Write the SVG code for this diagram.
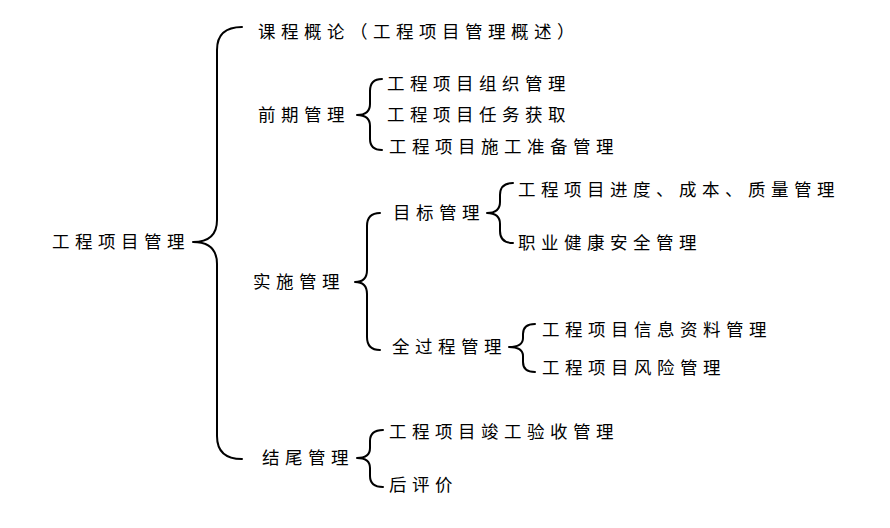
<svg xmlns="http://www.w3.org/2000/svg" width="890" height="528" viewBox="0 0 890 528">
<style>
text{font-family:"Noto Sans CJK SC","Noto Sans CJK JP",sans-serif;font-size:17.5px;letter-spacing:5.5px;fill:#000;}
.b{fill:none;stroke:#000;stroke-width:2;stroke-linecap:round;stroke-linejoin:round;}
</style>
<rect width="890" height="528" fill="#fff"/>
<g id="connectors">
<path class="b" d="M242 27 Q217 27 217 50 L217 220 Q217 242 193 242 Q217 242 217 264 L217 436 Q217 459 242 459"/>
<path class="b" d="M382 79 Q370 79 370 91 L370 104 Q370 115 357 115 Q370 115 370 126 L370 139 Q370 150 382 150"/>
<path class="b" d="M380 213 Q367 213 367 226 L367 270 Q367 282 355 282 Q367 282 367 294 L367 337 Q367 350 380 350"/>
<path class="b" d="M513 183 Q500 183 500 195 L500 202 Q500 213 487 213 Q500 213 500 224 L500 231 Q500 243 513 243"/>
<path class="b" d="M535 324 Q523 324 523 334 L523 338 Q523 347 509 347 Q523 347 523 356 L523 362 Q523 372 535 372"/>
<path class="b" d="M383 430 Q370 430 370 441 L370 448 Q370 458 357 458 Q370 458 370 468 L370 476 Q370 487 383 487"/>
</g>
<g id="root"><text x="52" y="248">工程项目管理</text></g>
<g id="n-intro"><text x="258" y="38">课程概论（工程项目管理概述）</text></g>
<g id="n-early"><text x="258" y="121">前期管理</text></g>
<g id="n-early-1"><text x="387" y="90">工程项目组织管理</text></g>
<g id="n-early-2"><text x="387" y="121">工程项目任务获取</text></g>
<g id="n-early-3"><text x="389" y="153">工程项目施工准备管理</text></g>
<g id="n-impl"><text x="253" y="288">实施管理</text></g>
<g id="n-goal"><text x="393" y="219">目标管理</text></g>
<g id="n-goal-1"><text x="518" y="196">工程项目进度、成本、质量管理</text></g>
<g id="n-goal-2"><text x="518" y="249">职业健康安全管理</text></g>
<g id="n-process"><text x="392" y="353">全过程管理</text></g>
<g id="n-process-1"><text x="542" y="336">工程项目信息资料管理</text></g>
<g id="n-process-2"><text x="542" y="374">工程项目风险管理</text></g>
<g id="n-end"><text x="262" y="464">结尾管理</text></g>
<g id="n-end-1"><text x="389" y="438">工程项目竣工验收管理</text></g>
<g id="n-end-2"><text x="389" y="491">后评价</text></g>
</svg>
